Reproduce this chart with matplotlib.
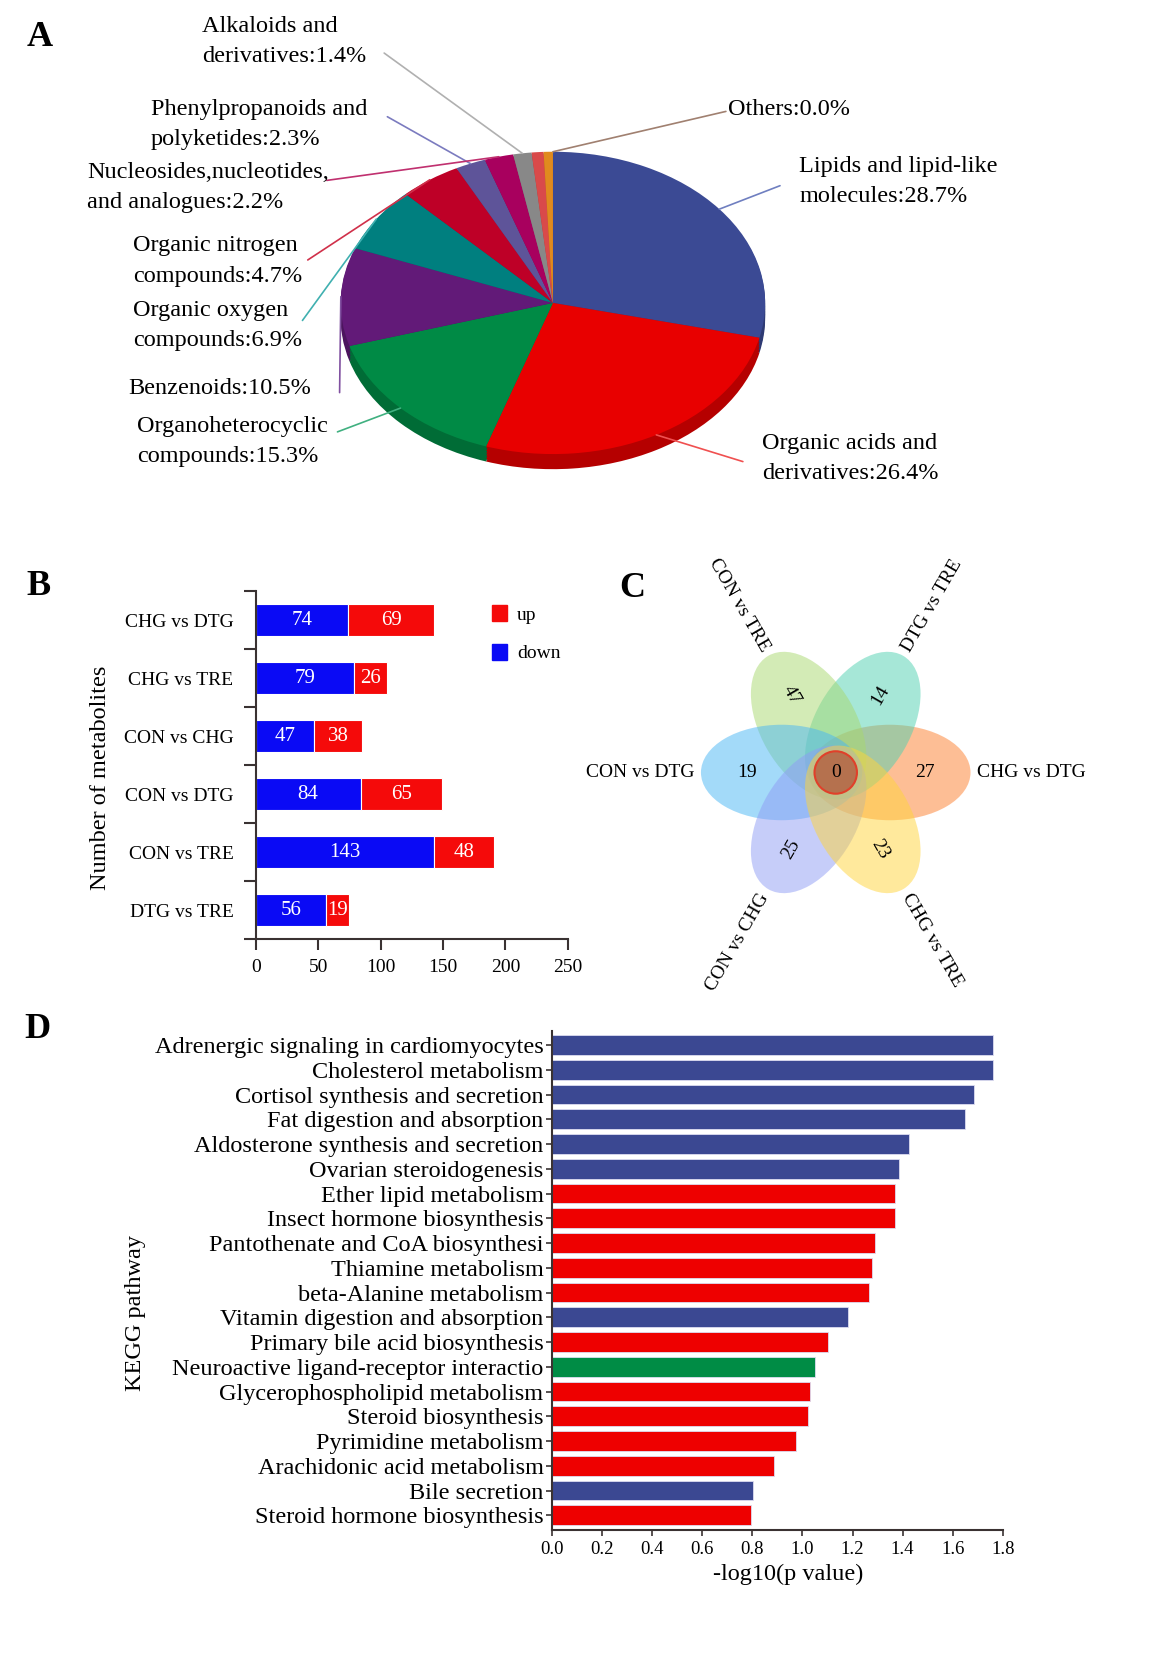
import numpy as np
import matplotlib
matplotlib.use('Agg')
import matplotlib.pyplot as plt
from matplotlib.patches import Patch, Ellipse, Circle
from matplotlib.colors import to_rgb

plt.rcParams['font.family'] = ['Liberation Serif', 'DejaVu Serif']

# layout grid (px) the panels were measured on
W, H = 1094, 1571


def fx(x):
    return x / W


def fy(y):
    return 1 - y / H


def box(x0, y0, x1, y1):
    return [x0 / W, 1 - y1 / H, (x1 - x0) / W, (y1 - y0) / H]


def darken(c, k=0.78):
    r, g, b = to_rgb(c)
    return (r * k, g * k, b * k)


# ---- A: metabolite classes ----
pie_names = ['Lipids and lipid-like\nmolecules', 'Organic acids and\nderivatives',
             'Organoheterocyclic\ncompounds', 'Benzenoids', 'Organic oxygen\ncompounds',
             'Organic nitrogen\ncompounds', 'Phenylpropanoids and\npolyketides',
             'Nucleosides,nucleotides,\nand analogues', 'Alkaloids and\nderivatives',
             '', '', 'Others']
pie_values = [28.7, 26.4, 15.3, 10.5, 6.9, 4.7, 2.3, 2.2, 1.4, 0.9, 0.7, 0.0]
pie_colors = ['#3b4a94', '#e80000', '#008a45', '#621a78', '#007f7f', '#be0027',
              '#5e5499', '#a8005e', '#888888', '#d94a4a', '#e08a1e', '#8b6a5a']
line_colors = ['#6f7fc0', '#f05050', '#40b080', '#8050a0', '#40b0b0', '#d0304a',
               '#7b7bbf', '#c0306f', '#b0b0b0', None, None, '#a08070']
# label text position (left x, centre y) and leader line start
label_pos = [(753, 171), (718, 432), (129, 416), (121, 366), (125, 307), (125, 246),
             (142, 117), (82, 177), (190, 39), None, None, (686, 103)]
line_start = [(735, 175), (700, 435), (318, 407), (320, 370), (285, 302), (290, 245),
              (365, 110), (308, 170), (362, 50), None, None, (684, 105)]

# ---- B: differential metabolites ----
groups = ['CHG vs DTG', 'CHG vs TRE', 'CON vs CHG', 'CON vs DTG', 'CON vs TRE', 'DTG vs TRE']
down = [74, 79, 47, 84, 143, 56]
up = [69, 26, 38, 65, 48, 19]

# ---- C: venn ----
venn_names = ['CHG vs DTG', 'DTG vs TRE', 'CON vs TRE', 'CON vs DTG', 'CON vs CHG', 'CHG vs TRE']
venn_unique = [27, 14, 47, 19, 25, 23]
venn_shared = 0
venn_colors = ['#fd7f2c', '#4fd1b0', '#a8d86e', '#49b6f5', '#8f9cf5', '#ffd43b']

# ---- D: KEGG ----
pathways = ['Adrenergic signaling in cardiomyocytes', 'Cholesterol metabolism',
            'Cortisol synthesis and secretion', 'Fat digestion and absorption',
            'Aldosterone synthesis and secretion', 'Ovarian steroidogenesis',
            'Ether lipid metabolism', 'Insect hormone biosynthesis',
            'Pantothenate and CoA biosynthesi', 'Thiamine metabolism',
            'beta-Alanine metabolism', 'Vitamin digestion and absorption',
            'Primary bile acid biosynthesis', 'Neuroactive ligand-receptor interactio',
            'Glycerophospholipid metabolism', 'Steroid biosynthesis',
            'Pyrimidine metabolism', 'Arachidonic acid metabolism',
            'Bile secretion', 'Steroid hormone biosynthesis']
neglogp = [1.762, 1.762, 1.684, 1.649, 1.424, 1.387, 1.369, 1.369, 1.290, 1.279,
           1.264, 1.180, 1.101, 1.052, 1.031, 1.022, 0.973, 0.886, 0.804, 0.795]
path_class = ['b', 'b', 'b', 'b', 'b', 'b', 'r', 'r', 'r', 'r',
              'r', 'b', 'r', 'g', 'r', 'r', 'r', 'r', 'b', 'r']
class_colors = {'b': '#3b4892', 'r': '#ee0000', 'g': '#008c45'}

fig = plt.figure(figsize=(11.61, 16.67), dpi=100)
spine_c = '#3a3232'

for letter, (x, y) in zip('ABCD', [(37, 35), (36, 553), (596, 555), (35, 970)]):
    fig.text(fx(x), fy(y), letter, fontsize=26, fontweight='bold', ha='center', va='center')

# ---------------- A ----------------
axa = fig.add_axes(box(321, 143, 721, 445))
depth = 0.1
for d in np.linspace(-depth, -0.01, 6):
    axa.pie(pie_values, colors=[darken(c) for c in pie_colors], startangle=90,
            counterclock=False, center=(0, d), wedgeprops=dict(linewidth=0))
axa.pie(pie_values, colors=pie_colors, startangle=90, counterclock=False,
        center=(0, 0), wedgeprops=dict(linewidth=0))
axa.set_aspect('auto')
axa.set_xlim(-1, 1)
axa.set_ylim(-1.12, 1.0)
axa.axis('off')

cum = np.cumsum([0] + pie_values)
for i, name in enumerate(pie_names):
    if not name:
        continue
    mid = (cum[i] + cum[i + 1]) / 2 / 100
    ang = np.deg2rad(90 - 360 * mid)
    sx, sy = line_start[i]
    axa.annotate('', xy=(np.cos(ang), np.sin(ang)), xycoords='data',
                 xytext=(fx(sx), fy(sy)), textcoords='figure fraction',
                 arrowprops=dict(arrowstyle='-', color=line_colors[i], lw=1.2,
                                 shrinkA=0, shrinkB=0),
                 annotation_clip=False)
    lx, ly = label_pos[i]
    fig.text(fx(lx), fy(ly), f'{name}:{pie_values[i]:.1f}%', fontsize=17.5,
             ha='left', va='center', linespacing=1.58)

# ---------------- B ----------------
axb = fig.add_axes(box(241, 557, 535, 885))
yy = np.arange(len(groups))
axb.barh(yy, down, height=0.55, color='#0a0af5', edgecolor='white', linewidth=0.8)
axb.barh(yy, up, left=down, height=0.55, color='#f50a0a', edgecolor='white', linewidth=0.8)
for i in range(len(groups)):
    axb.text(down[i] / 2, i, str(down[i]), color='white', ha='center', va='center', fontsize=15)
    axb.text(down[i] + up[i] / 2, i, str(up[i]), color='white', ha='center', va='center', fontsize=15)
axb.set_xlim(0, 250)
axb.set_ylim(len(groups) - 0.5, -0.5)
axb.set_xticks(range(0, 251, 50))
axb.set_yticks(np.arange(-0.5, len(groups), 1))
axb.set_yticklabels([])
axb.set_yticks(yy, minor=True)
axb.set_yticklabels(groups, minor=True)
axb.tick_params(axis='y', which='minor', length=0, pad=16, labelsize=14)
axb.tick_params(axis='y', which='major', length=9, width=1.5, color=spine_c)
axb.tick_params(axis='x', length=8, width=1.5, color=spine_c, labelsize=14, pad=6)
for s in ['top', 'right']:
    axb.spines[s].set_visible(False)
for s in ['left', 'bottom']:
    axb.spines[s].set_color(spine_c)
    axb.spines[s].set_linewidth(1.5)
axb.legend(handles=[Patch(color='#f50a0a', label='up'), Patch(color='#0a0af5', label='down')],
           loc='upper left', bbox_to_anchor=(fx(447), fy(554)), bbox_transform=fig.transFigure,
           frameon=False, handlelength=0.8, handleheight=0.9, handletextpad=0.5,
           labelspacing=1.0, fontsize=14)
fig.text(fx(95), fy(733), 'Number of metabolites', rotation=90, fontsize=17.5,
         ha='center', va='center')

# ---------------- C ----------------
cx, cy = 787.5, 728
axc = fig.add_axes(box(540, 520, 1080, 960))
axc.set_xlim(540 - cx, 1080 - cx)
axc.set_ylim(cy - 960, cy - 520)
axc.axis('off')
for i, a in enumerate([0, 60, 120, 180, 240, 300]):
    t = np.deg2rad(a)
    axc.add_patch(Ellipse((51 * np.cos(t), 51 * np.sin(t)), 152, 90, angle=a,
                          facecolor=venn_colors[i], alpha=0.5, edgecolor='none'))
for i, a in enumerate([0, 60, 120, 180, 240, 300]):
    t = np.deg2rad(a)
    rot = a if a <= 90 else a - 180
    if rot > 90:
        rot -= 180
    if a == 300:
        rot = -60
    axc.text(84 * np.cos(t), 84 * np.sin(t), str(venn_unique[i]), rotation=rot,
             ha='center', va='center', fontsize=14, rotation_mode='anchor')
    right_side = a in (0, 60, 300)
    axc.text(133 * np.cos(t), 133 * np.sin(t), venn_names[i], rotation=rot,
             ha='left' if right_side else 'right', va='center', fontsize=14,
             rotation_mode='anchor')
axc.add_patch(Circle((0, 0), 20, facecolor='#b5714e', edgecolor='#e0402a', lw=1.5))
axc.text(0, 0, str(venn_shared), ha='center', va='center', fontsize=14)

# ---------------- D ----------------
axd = fig.add_axes(box(520, 972, 945, 1442))
yd = np.arange(len(pathways))
axd.barh(yd, neglogp, height=0.8, color=[class_colors[c] for c in path_class],
         edgecolor='#dcdcf0', linewidth=0.6)
axd.set_xlim(0, 1.8)
axd.set_ylim(len(pathways) - 0.4, -0.55)
axd.set_xticks(np.round(np.arange(0, 1.81, 0.2), 1))
axd.set_xticklabels([f'{v:.1f}' for v in np.arange(0, 1.81, 0.2)])
axd.set_yticks(yd)
axd.set_yticklabels(pathways)
axd.tick_params(axis='y', length=4, width=1.2, pad=2, labelsize=17.5, color=spine_c)
axd.tick_params(axis='x', length=4, width=1.2, pad=4, labelsize=13.5, color=spine_c)
for s in ['top', 'right']:
    axd.spines[s].set_visible(False)
for s in ['left', 'bottom']:
    axd.spines[s].set_color(spine_c)
    axd.spines[s].set_linewidth(1.5)
fig.text(fx(743), fy(1484), '-log10(p value)', fontsize=17.5, ha='center', va='center')
fig.text(fx(128), fy(1237), 'KEGG pathway', rotation=90, fontsize=17.5, ha='center', va='center')

fig.savefig('out.png', dpi=100)
